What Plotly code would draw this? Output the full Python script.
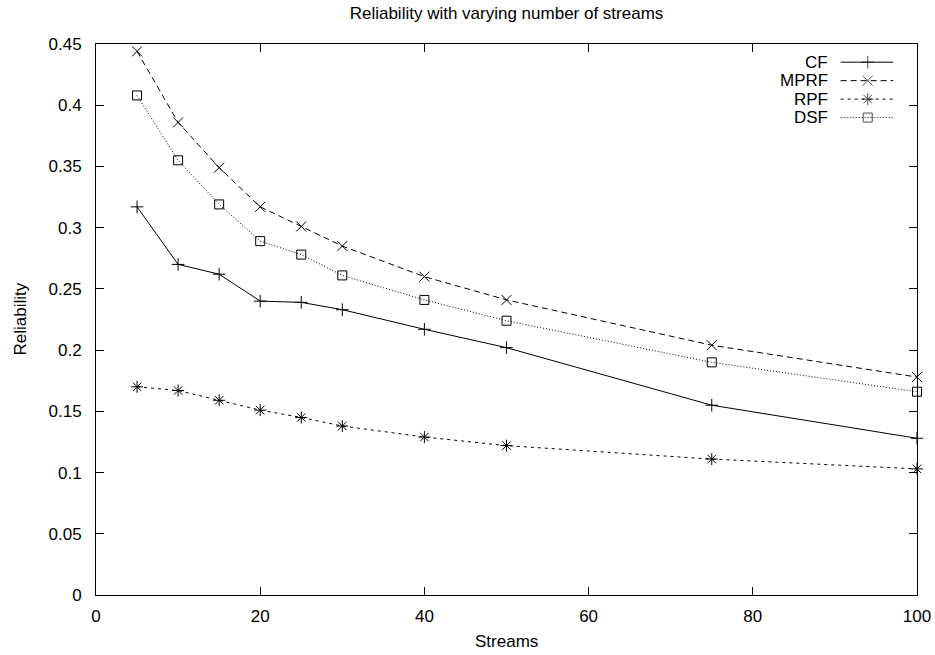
import plotly.graph_objects as go

# Number of streams on the x axis
streams = [5, 10, 15, 20, 25, 30, 40, 50, 75, 100]

# Reliability per filtering scheme
cf = [0.317, 0.270, 0.262, 0.240, 0.239, 0.233, 0.217, 0.202, 0.155, 0.128]
mprf = [0.444, 0.386, 0.349, 0.317, 0.301, 0.285, 0.260, 0.241, 0.204, 0.178]
rpf = [0.170, 0.167, 0.159, 0.151, 0.145, 0.138, 0.129, 0.122, 0.111, 0.103]
dsf = [0.408, 0.355, 0.319, 0.289, 0.278, 0.261, 0.241, 0.224, 0.190, 0.166]

series_names = ["CF", "MPRF", "RPF", "DSF"]
series_values = [cf, mprf, rpf, dsf]
dashes = ["solid", "6px,4px", "3px,4px", "1px,2px"]
symbols = ["cross-thin", "x-thin", "asterisk", "square"]
sizes = [9, 10, 10, 9]

FONT = "Liberation Sans, Arial, sans-serif"
TXT = 17
fig = go.Figure()

for name, vals, dash, sym, sz in zip(series_names, series_values, dashes, symbols, sizes):
    fig.add_trace(go.Scatter(
        x=streams, y=vals, name=name, mode="lines+markers",
        line=dict(color="black", width=1, dash=dash),
        marker=dict(symbol=sym, size=sz, color="rgba(0,0,0,0)",
                    line=dict(color="black", width=1)),
        showlegend=False, cliponaxis=False,
    ))

# Key in the upper right: label on the left, line sample with a marker on the right
key_top = 0.967
key_step = 0.0335
key_x = [0.907, 0.940, 0.971]
annotations = []
for i, (name, dash, sym, sz) in enumerate(zip(series_names, dashes, symbols, sizes)):
    ky = key_top - i * key_step
    fig.add_trace(go.Scatter(
        x=key_x, y=[ky] * 3, xaxis="x2", yaxis="y2", mode="lines+markers",
        line=dict(color="black", width=1, dash=dash),
        marker=dict(symbol=sym, size=[0, sz, 0], color="rgba(0,0,0,0)",
                    line=dict(color="black", width=[0, 1, 0])),
        showlegend=False, hoverinfo="skip",
    ))
    annotations.append(dict(
        x=0.894, y=ky, xref="x2", yref="y2", text=name, showarrow=False,
        xanchor="right", yanchor="middle", font=dict(family=FONT, size=TXT, color="black"),
    ))

annotations.append(dict(
    x=0.5, y=0, xref="paper", yref="paper", yshift=-46, text="Streams",
    showarrow=False, xanchor="center", yanchor="middle",
    font=dict(family=FONT, size=TXT, color="black"),
))
annotations.append(dict(
    x=0, y=0.5, xref="paper", yref="paper", xshift=-76, text="Reliability",
    showarrow=False, xanchor="center", yanchor="middle", textangle=-90,
    font=dict(family=FONT, size=TXT, color="black"),
))

axis_common = dict(
    showgrid=False, zeroline=False, showline=True, linecolor="black", linewidth=1,
    mirror="ticks", ticks="inside", ticklen=8, tickwidth=1, tickcolor="black",
    tickfont=dict(family=FONT, size=TXT, color="black"), automargin=False,
)

fig.update_layout(
    width=935, height=655,
    margin=dict(l=96, r=18, t=44, b=60, autoexpand=False),
    paper_bgcolor="white", plot_bgcolor="white",
    font=dict(family=FONT, color="black"),
    title=dict(text="Reliability with varying number of streams", x=0.5, xref="paper",
               y=1 - 13 / 655, yanchor="middle", automargin=False,
               font=dict(family=FONT, size=TXT, color="black")),
    xaxis=dict(range=[0, 100], tick0=0, dtick=20, ticklabelstandoff=6,
               ticklabeloverflow="allow", **axis_common),
    yaxis=dict(range=[0, 0.45], tick0=0, dtick=0.05, ticklabelstandoff=10, **axis_common),
    xaxis2=dict(range=[0, 1], overlaying="x", visible=False, fixedrange=True),
    yaxis2=dict(range=[0, 1], overlaying="y", visible=False, fixedrange=True),
    annotations=annotations,
    showlegend=False,
)

fig.write_html("out.html")
